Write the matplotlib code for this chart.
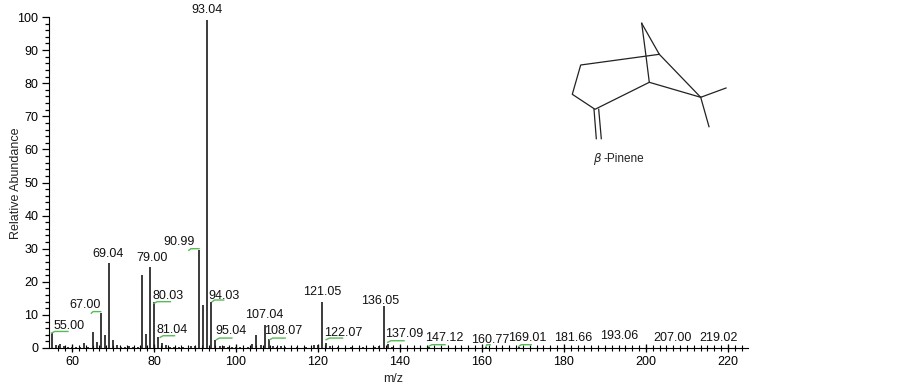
import matplotlib
matplotlib.use("Agg")
import matplotlib.pyplot as plt
import numpy as np

W, H = 903, 388
plt.rcParams['font.family'] = ['Liberation Sans', 'DejaVu Sans']

# spectrum
mz = [55, 56, 57, 58, 59, 60, 61, 62, 63, 64, 65, 66, 67, 68, 69, 70, 71, 72, 73, 74, 75, 76,
      77, 78, 79, 80, 81, 82, 83, 84, 85, 86, 87, 89, 90, 91, 92, 93, 94, 95, 96, 97, 98, 99,
      100, 101, 103, 104, 105, 106, 107, 108, 109, 110, 111, 112, 115, 117, 119, 120, 121, 122,
      123, 125, 128, 131, 134, 135, 136, 137, 138, 147, 161, 169]
intensity = [4.5, 0.8, 1.2, 0.6, 0.4, 0.3, 0.3, 0.3, 1.5, 0.4, 4.7, 1.7, 10.5, 3.8, 25.6, 2.4, 0.8, 0.4,
             0.3, 0.7, 0.4, 0.3, 22, 4.2, 24.5, 13.8, 3.2, 1.5, 0.8, 0.4, 0.4, 0.4, 0.4, 0.7, 0.5, 29.6,
             12.9, 99, 14, 2.5, 0.5, 0.7, 0.4, 0.4, 0.3, 0.3, 0.4, 1.1, 3.8, 0.8, 7, 2.6, 0.5, 0.4,
             0.7, 0.3, 0.3, 0.3, 1, 0.8, 13.8, 1.5, 0.5, 0.3, 0.3, 0.3, 0.3, 0.5, 12.8, 1.2, 0.3, 0.4, 0.3, 0.3]

# peak labels, placed in pixels
labels = ["55.00", "67.00", "69.04", "79.00", "80.03", "81.04", "90.99", "93.04", "94.03", "95.04",
          "107.04", "108.07", "121.05", "122.07", "136.05", "137.09", "147.12", "160.77", "169.01",
          "181.66", "193.06", "207.00", "219.02"]
label_x = [69, 85, 108, 152, 168, 172, 179, 207, 224, 231, 264, 283, 322, 343, 380, 404, 444, 490, 527,
           573, 619, 673, 719]
label_y = [326, 305, 254, 258, 296, 330, 242, 10, 296, 331, 315, 331, 292, 333, 301, 334, 338, 340, 338,
           338, 336, 338, 338]

# green integration marks: start, end, height
green_start = [55, 64.7, 80, 81.5, 88.5, 94.2, 95.2, 108.2, 122, 137, 147, 161, 169]
green_end = [59, 67, 84, 85, 91, 97, 99, 112, 126, 141, 151, 162, 172]
green_y = [5, 11, 14, 3.7, 30, 14.5, 3, 3, 3, 2.2, 1, 1, 1]

# structure drawing, pixel coordinates
bonds = [[(641.7, 23.3), (659.3, 54.3)], [(641.7, 23.3), (646, 56), (649.3, 82.3)],
         [(659.3, 54.3), (580.7, 65), (572.3, 94.3), (595, 109.3), (649.3, 82.3), (700.7, 97.3)],
         [(659.3, 54.3), (700.7, 97.3), (726, 88)], [(700.7, 97.3), (709, 126.7)],
         [(594, 109.3), (596.3, 138.7)], [(598.7, 109.3), (601.3, 138.7)]]

fig = plt.figure(figsize=(W / 100, H / 100), dpi=100)
ax = fig.add_axes([49.5 / W, 1 - 348 / H, (748 - 49.5) / W, (348 - 17) / H])
ax.vlines(mz, 0, intensity, color="#1a1a1a", lw=1.2)
for s, e, y in zip(green_start, green_end, green_y):
    ax.plot([s, s + 0.2 * (e - s), e], [y - 0.5, y, y], color="#55bb55", lw=1, clip_on=False)

ax.set_xlim(54.51, 224.9)
ax.set_ylim(0, 100)
ax.set_xticks(np.arange(60, 221, 20))
ax.set_xticks(np.arange(56.67, 225, 5 / 3), minor=True)
ax.set_yticks(np.arange(0, 101, 10))
ax.set_yticks(np.arange(0, 100, 2), minor=True)
ax.tick_params(axis="y", which="major", length=5, width=0.9, labelsize=9, color="black", pad=3)
ax.tick_params(axis="y", which="minor", length=3, width=0.9, color="black")
ax.tick_params(axis="x", which="major", length=6, width=0.9, labelsize=9, color="black", pad=3, direction="inout")
ax.tick_params(axis="x", which="minor", length=4, width=0.8, color="black", direction="inout")
ax.spines["top"].set_visible(False)
ax.spines["right"].set_visible(False)
ax.patch.set_alpha(0)
fig.text(393 / W, 1 - 379 / H, "m/z", fontsize=9, ha="center", va="center", color="#222222")
fig.text(16 / W, 1 - 183 / H, "Relative Abundance", fontsize=9, rotation=90, ha="center", va="center", color="#222222")

overlay = fig.add_axes([0, 0, 1, 1])
overlay.set_xlim(0, W)
overlay.set_ylim(H, 0)
overlay.axis("off")
for t, x, y in zip(labels, label_x, label_y):
    overlay.text(x, y, t, fontsize=9, ha="center", va="center", color="#111111")
for b in bonds:
    xs, ys = zip(*b)
    overlay.plot(xs, ys, color="#222222", lw=0.9)
overlay.text(598, 159, r"$\mathit{\beta}$", fontsize=8.5, ha="center", va="center", color="#222222")
overlay.text(603.5, 159, "-Pinene", fontsize=8.5, ha="left", va="center", color="#222222")

fig.savefig("out.png", dpi=100)
